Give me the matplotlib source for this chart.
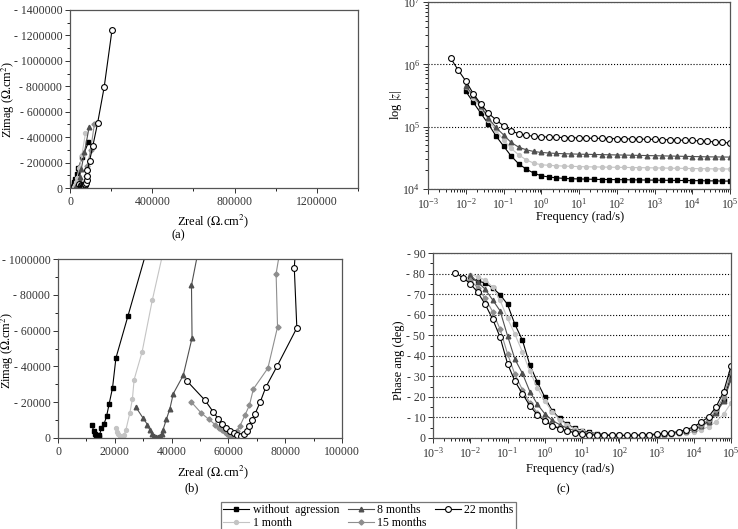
import numpy as np
import matplotlib
matplotlib.use("Agg")
import matplotlib.pyplot as plt
from matplotlib.ticker import FuncFormatter, MultipleLocator, LogLocator, NullFormatter

plt.rcParams["font.family"] = ["Liberation Serif", "DejaVu Serif"]
plt.rcParams["mathtext.fontset"] = "stix"
plt.rcParams["font.size"] = 9

# ---- Nyquist data (Zreal, -Zimag), ohm.cm2 ----
zr_wo = [11800, 12700, 13100, 13400, 13700, 14000, 14300, 14600, 15300, 16200, 17100, 18000,
         19200, 20400, 24600, 32000, 41000, 60000, 89000]
zi_wo = [7100, 4000, 2300, 1200, 500, 300, 600, 1500, 5600, 7800, 12100, 19000,
         28000, 44700, 68000, 109000, 161000, 242000, 358000]

zr_1m = [20400, 20900, 21300, 21700, 22100, 22500, 22900, 23300, 23900, 25300, 26200, 26800,
         29600, 33200, 45000, 58000, 75000]
zi_1m = [5600, 3500, 2000, 1000, 500, 400, 800, 1800, 4500, 14000, 21800, 32600,
         48000, 77000, 160000, 260000, 430000]

zr_8m = [27400, 30000, 31500, 32300, 33000, 33700, 34400, 35100, 35800, 36500, 37000, 38200,
         39400, 40600, 44100, 47200, 47000, 55000, 70000, 93000]
zi_8m = [17300, 11000, 7500, 4500, 2500, 1300, 800, 800, 1300, 2500, 4700, 10600,
         16400, 24800, 35000, 55900, 85300, 150000, 280000, 478000]

zr_15m = [47000, 50400, 53000, 55300, 56800, 57900, 58800, 59500, 60100, 60600, 61200, 61800,
          62900, 64000, 65900, 67400, 68800, 73900, 77300, 76800, 85000, 100000, 119000]
zi_15m = [20000, 14000, 10600, 7500, 5600, 4200, 3100, 2300, 1600, 1000, 1400, 2300,
          3700, 6500, 13000, 18300, 27400, 39000, 62000, 91800, 170000, 300000, 507000]

zr_22m = [45500, 51800, 54700, 56500, 57900, 59200, 60600, 61800, 63200, 64400, 65600, 66500,
          67400, 68200, 69400, 71200, 73200, 77100, 84100, 83200, 85000, 95000, 111000,
          134000, 166000, 204000]
zi_22m = [31700, 21000, 14500, 10600, 7800, 5600, 3700, 2800, 1900, 1300, 2200, 4100,
          6900, 9900, 13600, 20100, 28500, 40000, 61500, 95000, 140000, 213000, 331000,
          509000, 792000, 1240000]

# ---- Bode data ----
freq = [0.004, 0.0063, 0.01, 0.0158, 0.0251, 0.0398, 0.0631, 0.1, 0.158, 0.251, 0.398, 0.631,
        1, 1.58, 2.51, 3.98, 6.31, 10, 15.8, 25.1, 39.8, 63.1, 100, 158, 251, 398, 631,
        1000, 1580, 2510, 3980, 6310, 10000, 15800, 25100, 39800, 63100, 100000]

modz_wo = [3.7e5, 2.46e5, 1.64e5, 1.1e5, 7.1e4, 4.9e4, 3.4e4, 2.54e4, 2.09e4, 1.8e4, 1.63e4,
           1.56e4, 1.51e4, 1.48e4, 1.46e4, 1.45e4, 1.44e4, 1.43e4, 1.42e4, 1.42e4, 1.41e4,
           1.41e4, 1.4e4, 1.4e4, 1.39e4, 1.39e4, 1.38e4, 1.38e4, 1.37e4, 1.37e4, 1.36e4,
           1.36e4, 1.35e4, 1.35e4, 1.34e4, 1.34e4]
modz_1m = [4.4e5, 2.9e5, 1.98e5, 1.29e5, 8.7e4, 6.15e4, 4.5e4, 3.54e4, 2.94e4, 2.6e4, 2.45e4,
           2.4e4, 2.36e4, 2.33e4, 2.31e4, 2.29e4, 2.27e4, 2.26e4, 2.25e4, 2.24e4, 2.23e4,
           2.22e4, 2.21e4, 2.2e4, 2.19e4, 2.18e4, 2.17e4, 2.16e4, 2.15e4, 2.14e4, 2.13e4,
           2.12e4, 2.11e4, 2.1e4, 2.1e4, 2.09e4]
modz_8m = [4.5e5, 3.2e5, 2.15e5, 1.37e5, 9.7e4, 7.4e4, 5.6e4, 4.7e4, 4.26e4, 4.0e4, 3.86e4,
           3.78e4, 3.72e4, 3.68e4, 3.65e4, 3.62e4, 3.6e4, 3.58e4, 3.56e4, 3.54e4, 3.52e4,
           3.5e4, 3.48e4, 3.46e4, 3.44e4, 3.42e4, 3.4e4, 3.38e4, 3.36e4, 3.34e4, 3.32e4,
           3.3e4, 3.28e4, 3.27e4, 3.26e4, 3.25e4]
modz_22m = [1.25e6, 8.1e5, 5.4e5, 3.4e5, 2.3e5, 1.64e5, 1.29e5, 1.03e5, 8.6e4, 7.7e4, 7.3e4,
            7.0e4, 6.9e4, 6.8e4, 6.75e4, 6.7e4, 6.65e4, 6.6e4, 6.55e4, 6.5e4, 6.5e4, 6.45e4,
            6.4e4, 6.4e4, 6.35e4, 6.3e4, 6.3e4, 6.25e4, 6.2e4, 6.15e4, 6.1e4, 6.05e4, 6.0e4,
            5.9e4, 5.8e4, 5.7e4, 5.6e4, 5.45e4]

ph_wo = [77.5, 76.4, 75.4, 73.0, 69.8, 65.0, 55.3, 47.6, 35.5, 27.3, 19.9, 13.3, 9.5, 6.7, 4.8,
         3.6, 2.7, 2.1, 1.7, 1.4, 1.3, 1.2, 1.2, 1.3, 1.4, 1.6, 1.9, 2.3, 2.8, 3.4, 4.3, 5.8,
         8.3, 12.5, 18.5, 30.0]
ph_1m = [79.5, 78.5, 76.8, 73.5, 67.0, 58.2, 50.5, 41.9, 32.5, 24.5, 18.0, 12.8, 9.0, 6.3, 4.5,
         3.2, 2.4, 1.9, 1.5, 1.3, 1.2, 1.1, 1.1, 1.1, 1.2, 1.3, 1.5, 1.7, 2.0, 2.4, 3.0, 4.0,
         5.5, 8.0, 11.5, 17.0]
ph_8m = [79.2, 75.9, 72.4, 67.2, 61.9, 49.8, 38.3, 31.5, 22.6, 16.5, 11.8, 8.6, 6.5, 4.8, 3.6,
         2.7, 2.1, 1.7, 1.4, 1.3, 1.2, 1.2, 1.2, 1.3, 1.4, 1.6, 1.8, 2.2, 2.7, 3.3, 4.2, 5.6,
         8.0, 12.0, 17.8, 28.5]
ph_15m = [77.0, 73.0, 68.0, 61.5, 53.0, 41.0, 31.0, 23.5, 17.0, 12.3, 9.0, 6.5, 4.8, 3.5, 2.7,
          2.0, 1.6, 1.4, 1.3, 1.2, 1.2, 1.2, 1.2, 1.3, 1.5, 1.7, 2.0, 2.4, 2.9, 3.6, 4.6, 6.3,
          9.0, 13.5, 20.0, 32.0]
ph_22m = [80.4, 78.0, 75.1, 70.9, 65.1, 57.9, 49.1, 36.2, 27.6, 21.6, 15.7, 11.3, 8.2, 6.0, 4.5,
          3.4, 2.6, 1.9, 1.6, 1.4, 1.3, 1.3, 1.3, 1.3, 1.3, 1.5, 1.7, 1.9, 2.2, 2.6, 3.1, 4.0,
          5.5, 7.7, 10.3, 15.2, 22.4, 35.0]

labels = ["without  agression", "1 month", "8 months", "15 months", "22 months"]
b_ytick_labels = ["0", "- 20000", "- 40000", "- 60000", "- 80000", "- 1000000"]

st = {
    "wo": dict(color="black", marker="s", ms=2.8, mfc="black", mec="black"),
    "1m": dict(color="#c4c4c4", marker="o", ms=2.8, mfc="#c4c4c4", mec="#c4c4c4"),
    "8m": dict(color="#505050", marker="^", ms=3.3, mfc="#505050", mec="#505050"),
    "15m": dict(color="#8e8e8e", marker="D", ms=2.6, mfc="#8e8e8e", mec="#8e8e8e"),
    "22m": dict(color="black", marker="o", ms=4.2, mfc="white", mec="black", mew=0.8),
}
lw = 0.8

minus_fmt = FuncFormatter(lambda v, p: "0" if v == 0 else "- %d" % v)
plain_fmt = FuncFormatter(lambda v, p: "%d" % v)

W, H = 738, 529
fig = plt.figure(figsize=(W / 100, H / 100), dpi=100)


def box(l, t, r, b):
    return [l / W, 1 - b / H, (r - l) / W, (b - t) / H]


ax_a = fig.add_axes(box(70, 10, 358, 188))
ax_z = fig.add_axes(box(428, 2, 730, 189))
ax_b = fig.add_axes(box(58, 259, 342, 438))
ax_c = fig.add_axes(box(433, 253, 731, 438))

nyq = [(zr_wo, zi_wo, "wo"), (zr_1m, zi_1m, "1m"), (zr_8m, zi_8m, "8m"),
       (zr_15m, zi_15m, "15m"), (zr_22m, zi_22m, "22m")]
for ax in (ax_a, ax_b):
    for zr, zi, k in nyq:
        ax.plot(zr, zi, lw=lw, **st[k])

ax_a.set_xlim(0, 1400000)
ax_a.set_ylim(0, 1400000)
ax_a.set_xticks([0, 400000, 800000, 1200000])
ax_a.xaxis.set_major_formatter(plain_fmt)
ax_a.xaxis.set_minor_locator(MultipleLocator(200000))
ax_a.yaxis.set_major_locator(MultipleLocator(200000))
ax_a.yaxis.set_minor_locator(MultipleLocator(100000))
ax_a.yaxis.set_major_formatter(minus_fmt)
ax_a.set_xlabel("Zreal ($\\Omega$.cm$^2$)")
ax_a.set_ylabel("Zimag ($\\Omega$.cm$^2$)", fontsize=8.8)
ax_a.xaxis.set_label_coords(0.497, -0.135)
ax_a.yaxis.set_label_coords(-0.183, 0.494)

ax_b.set_xlim(0, 100000)
ax_b.set_ylim(0, 100000)
ax_b.set_xticks([0, 20000, 40000, 60000, 80000, 100000])
ax_b.xaxis.set_major_formatter(plain_fmt)
ax_b.xaxis.set_minor_locator(MultipleLocator(10000))
ax_b.set_yticks([0, 20000, 40000, 60000, 80000, 100000])
ax_b.set_yticklabels(b_ytick_labels)
ax_b.yaxis.set_minor_locator(MultipleLocator(10000))
ax_b.set_xlabel("Zreal ($\\Omega$.cm$^2$)")
ax_b.set_ylabel("Zimag ($\\Omega$.cm$^2$)", fontsize=8.8)
ax_b.xaxis.set_label_coords(0.546, -0.145)
ax_b.yaxis.set_label_coords(-0.147, 0.49)

# Bode modulus
f36 = freq[2:]
ax_z.plot(f36, modz_wo, lw=lw, **st["wo"])
ax_z.plot(f36, modz_1m, lw=lw, **st["1m"])
ax_z.plot(f36, modz_8m, lw=lw, **st["8m"])
ax_z.plot(freq, modz_22m, lw=lw, **st["22m"])
ax_z.set_xscale("log")
ax_z.set_yscale("log")
ax_z.set_xlim(1e-3, 1e5)
ax_z.set_ylim(1e4, 1e7)
ax_z.yaxis.grid(True, which="major", linestyle=":", color="black", lw=0.8)
ax_z.set_xlabel("Frequency (rad/s)")
ax_z.set_ylabel("log |$z$|")
ax_z.xaxis.set_label_coords(0.503, -0.118)
ax_z.yaxis.set_label_coords(-0.079, 0.449)

# Bode phase
ax_c.plot(f36, ph_wo, lw=lw, **st["wo"])
ax_c.plot(f36, ph_1m, lw=lw, **st["1m"])
ax_c.plot(f36, ph_8m, lw=lw, **st["8m"])
ax_c.plot(f36, ph_15m, lw=lw, **st["15m"])
ax_c.plot(freq, ph_22m, lw=lw, **st["22m"])
ax_c.set_xscale("log")
ax_c.set_xlim(1e-3, 1e5)
ax_c.set_ylim(0, 90)
ax_c.yaxis.set_major_locator(MultipleLocator(10))
ax_c.yaxis.set_minor_locator(MultipleLocator(5))
ax_c.yaxis.set_major_formatter(minus_fmt)
ax_c.yaxis.grid(True, which="major", linestyle=":", color="black", lw=0.8)
ax_c.set_xlabel("Frequency (rad/s)")
ax_c.set_ylabel("Phase ang (deg)")
ax_c.xaxis.set_label_coords(0.46, -0.135)
ax_c.yaxis.set_label_coords(-0.094, 0.42)

for ax in (ax_z, ax_c):
    ax.xaxis.set_major_locator(LogLocator(base=10, numticks=20))
    ax.xaxis.set_minor_locator(LogLocator(base=10, subs=np.arange(2, 10), numticks=20))
    ax.xaxis.set_minor_formatter(NullFormatter())

for ax in (ax_a, ax_b, ax_z, ax_c):
    for s in ax.spines.values():
        s.set_color("#555555")
        s.set_linewidth(0.9)
    ax.tick_params(which="major", length=3.5, width=0.7, direction="out", pad=2, colors="#333333",
                   labelsize=8.5)
    ax.tick_params(which="minor", length=2, width=0.6, direction="out")
    ax.set_axisbelow(True)

fig.text(178 / W, 1 - 235 / H, "(a)", ha="center", va="center", fontsize=9)
fig.text(192 / W, 1 - 488 / H, "(b)", ha="center", va="center", fontsize=9)
fig.text(563 / W, 1 - 489 / H, "(c)", ha="center", va="center", fontsize=9)

handles = ax_c.get_lines()
leg = fig.legend(handles, labels, loc="upper left",
                 bbox_to_anchor=(221 / W, 1 - 502 / H), ncol=3, frameon=True, fancybox=False,
                 edgecolor="#555555", fontsize=8.5, handlelength=2.2, handletextpad=0.3,
                 columnspacing=0.7, labelspacing=0.05, borderpad=0.2, borderaxespad=0)
leg.get_frame().set_linewidth(0.9)

fig.savefig("out.png", dpi=100)
